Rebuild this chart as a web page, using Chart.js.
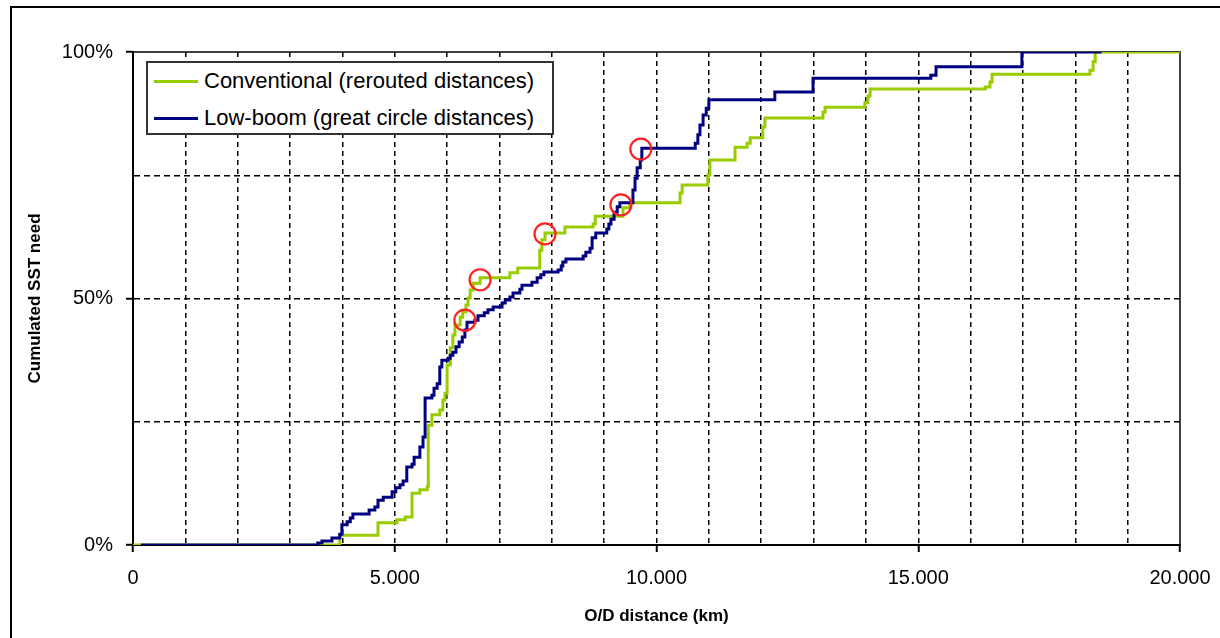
<!DOCTYPE html>
<html>
<head>
<meta charset="utf-8">
<script src="https://cdn.jsdelivr.net/npm/chart.js@4.4.1/dist/chart.umd.min.js"></script>
<style>
  body { margin: 0; background: #fff; font-family: "Liberation Sans", Arial, sans-serif; }
  #wrap { position: relative; width: 1220px; height: 638px; overflow: hidden; }
  #frame { position: absolute; left: 10px; top: 6px; width: 1300px; height: 700px;
           border-left: 2px solid #000; border-top: 2px solid #000; }
  #chart { position: absolute; left: 0; top: 0; }
  #legend { position: absolute; left: 146px; top: 61px; width: 404px; height: 70px;
            border: 2px solid #333; background: #fff; }
  .item { position: absolute; left: 6px; height: 26px; display: flex; align-items: center;
          font-size: 22px; color: #000; white-space: nowrap; }
  .item span.swatch { display: inline-block; width: 44px; height: 3px; margin-right: 6px; }
</style>
</head>
<body>
<div id="wrap">
  <div id="frame"></div>
  <canvas id="chart" width="1220" height="638"></canvas>
  <div id="legend"></div>
</div>
<script>
// Conventional (rerouted distances): step points (km, cumulated %)
const convX = [0, 3950, 4680, 5040, 5200, 5330, 5480, 5620, 5640, 5710,
  5860, 5920, 5960, 6000, 6060, 6110, 6150, 6250, 6300, 6360,
  6400, 6440, 6500, 6630, 7200, 7350, 7770, 7810, 7870, 8250,
  8790, 8830, 9360, 9490, 10450, 10490, 10980, 11020, 11500, 11730,
  11790, 12030, 12070, 13180, 13220, 13980, 14040, 14080, 16280, 16370,
  16410, 18280, 18340, 18380, 20000];
const convY = [0, 2.0, 4.5, 5.1, 5.7, 10.5, 11.2, 11.8, 24.3, 26.4,
  27.4, 29.4, 30.8, 36.5, 40.0, 42.6, 44.6, 46.2, 47.3, 48.7,
  50.1, 51.7, 53.1, 54.2, 55.2, 56.2, 59.8, 61.9, 63.3, 64.5,
  65.1, 66.7, 68.4, 69.4, 71.4, 73.0, 75.1, 78.1, 80.7, 81.5,
  82.6, 84.8, 86.6, 87.8, 88.8, 89.7, 91.1, 92.5, 92.9, 93.9,
  95.5, 96.3, 98.0, 100, 100];

// Low-boom (great circle distances)
const lowX = [150, 3530, 3610, 3800, 3950, 3990, 4090, 4150, 4200, 4510,
  4620, 4680, 4780, 4950, 5020, 5100, 5160, 5230, 5330, 5370,
  5480, 5540, 5580, 5710, 5750, 5810, 5860, 5900, 6020, 6060,
  6110, 6170, 6230, 6290, 6340, 6380, 6530, 6590, 6710, 6780,
  6880, 7050, 7110, 7200, 7260, 7390, 7430, 7620, 7720, 7790,
  7850, 8120, 8180, 8210, 8270, 8600, 8650, 8730, 8770, 8840,
  9050, 9090, 9130, 9190, 9250, 9300, 9550, 9590, 9630, 9690,
  9720, 10740, 10790, 10830, 10890, 10950, 11000, 12260, 12990, 15240,
  15340, 16980, 18500];
const lowY = [0, 0.4, 0.8, 1.4, 2.2, 4.1, 4.7, 5.5, 6.3, 7.1,
  7.7, 9.1, 9.7, 10.8, 11.6, 12.2, 13.0, 15.8, 16.4, 17.8,
  19.9, 21.9, 29.8, 30.4, 31.8, 32.7, 36.1, 37.5, 37.9, 38.5,
  39.1, 40.2, 41.2, 42.2, 43.6, 45.2, 45.6, 46.5, 47.1, 47.7,
  48.3, 49.1, 49.7, 50.3, 51.1, 51.9, 52.7, 53.3, 54.2, 54.8,
  55.4, 55.8, 56.6, 57.4, 58.0, 58.6, 59.4, 60.2, 62.3, 63.3,
  64.1, 65.1, 66.1, 67.5, 68.6, 69.4, 72.0, 74.4, 76.5, 78.1,
  80.5, 81.5, 83.2, 85.2, 87.2, 88.6, 90.3, 91.9, 94.7, 95.3,
  97.0, 100, 100];

// highlighted points (red circles)
const circX = [6340, 6630, 7870, 9320, 9700];
const circY = [45.6, 53.8, 63.1, 69.0, 80.3];

// tick labels
const xLabelVals = [0, 5000, 10000, 15000, 20000];
const xTickLabels = ['0', '5.000', '10.000', '15.000', '20.000'];
const yLabelVals = [0, 50, 100];
const yTickLabels = ['0%', '50%', '100%'];

const seriesNames = ['Conventional (rerouted distances)', 'Low-boom (great circle distances)'];
const GREEN = '#99cc00';
const NAVY = '#000080';

function zip(xs, ys) {
    return xs.map((x, i) => ({ x: x, y: ys[i] }));
}

// borde del área de trazado (arriba y derecha)
const plotBorder = {
    id: 'plotBorder',
    beforeDatasetsDraw(chart) {
        const a = chart.chartArea;
        const c = chart.ctx;
        c.save();
        c.strokeStyle = '#000';
        c.lineWidth = 1.5;
        c.strokeRect(a.left, a.top, a.right - a.left, a.bottom - a.top);
        c.restore();
    }
};

const fontFam = '"Liberation Sans", Arial, sans-serif';

const ctx = document.getElementById('chart').getContext('2d');
new Chart(ctx, {
    type: 'line',
    data: {
        datasets: [
            {
                label: 'marks',
                data: zip(circX, circY),
                showLine: false,
                pointRadius: 10.5,
                pointBorderWidth: 2.2,
                pointBorderColor: '#ff2020',
                pointBackgroundColor: 'rgba(0,0,0,0)'
            },
            {
                label: seriesNames[1],
                data: zip(lowX, lowY),
                borderColor: NAVY,
                borderWidth: 3,
                stepped: true,
                pointRadius: 0,
                fill: false
            },
            {
                label: seriesNames[0],
                data: zip(convX, convY),
                borderColor: GREEN,
                borderWidth: 3,
                stepped: true,
                pointRadius: 0,
                fill: false
            }
        ]
    },
    options: {
        responsive: false,
        animation: false,
        events: [],
        layout: { padding: { top: 52, right: 0, left: 0, bottom: 0 } },
        plugins: { legend: { display: false }, tooltip: { enabled: false } },
        scales: {
            x: {
                type: 'linear',
                min: 0,
                max: 20000,
                afterFit: s => { s.height = 93; s.paddingRight = 40; s.paddingLeft = 0; },
                ticks: {
                    stepSize: 1000,
                    autoSkip: false,
                    maxRotation: 0,
                    padding: 14,
                    color: '#000',
                    font: { family: fontFam, size: 20 },
                    callback: v => {
                        const i = xLabelVals.indexOf(v);
                        return i >= 0 ? xTickLabels[i] : '';
                    }
                },
                grid: {
                    color: c => (c.tick && (c.tick.value === 0 || c.tick.value === 20000)) ? 'rgba(0,0,0,0)' : '#000',
                    lineWidth: 1.5,
                    tickLength: 7,
                    tickWidth: 2,
                    tickColor: c => (c.tick && xLabelVals.includes(c.tick.value)) ? '#000' : 'rgba(0,0,0,0)'
                },
                border: { display: true, color: '#000', width: 2, dash: [5, 4] },
                title: {
                    display: true,
                    text: 'O/D distance (km)',
                    color: '#000',
                    font: { family: fontFam, size: 17, weight: 'bold' },
                    padding: { top: 0, bottom: 11 }
                }
            },
            y: {
                min: 0,
                max: 100,
                afterFit: s => { s.width = 133; },
                ticks: {
                    stepSize: 25,
                    padding: 13,
                    color: '#000',
                    font: { family: fontFam, size: 20 },
                    callback: v => {
                        const i = yLabelVals.indexOf(v);
                        return i >= 0 ? yTickLabels[i] : '';
                    }
                },
                grid: {
                    color: c => (c.tick && (c.tick.value === 0 || c.tick.value === 100)) ? 'rgba(0,0,0,0)' : '#000',
                    lineWidth: 1.5,
                    tickLength: 7,
                    tickWidth: 2,
                    tickColor: c => (c.tick && yLabelVals.includes(c.tick.value)) ? '#000' : 'rgba(0,0,0,0)'
                },
                border: { display: true, color: '#000', width: 2, dash: [6, 4] },
                title: {
                    display: true,
                    text: 'Cumulated SST need',
                    color: '#000',
                    font: { family: fontFam, size: 17, weight: 'bold' },
                    padding: { top: 25, bottom: 0 }
                }
            }
        }
    },
    plugins: [plotBorder]
});

// leyenda en HTML (recuadro dentro del gráfico)
const legendEl = document.getElementById('legend');
[[seriesNames[0], GREEN], [seriesNames[1], NAVY]].forEach((it, i) => {
    const d = document.createElement('div');
    d.className = 'item';
    d.style.top = (5 + i * 37) + 'px';
    d.innerHTML = '<span class="swatch" style="background:' + it[1] + '"></span>' + it[0];
    legendEl.appendChild(d);
});
</script>
</body>
</html>
